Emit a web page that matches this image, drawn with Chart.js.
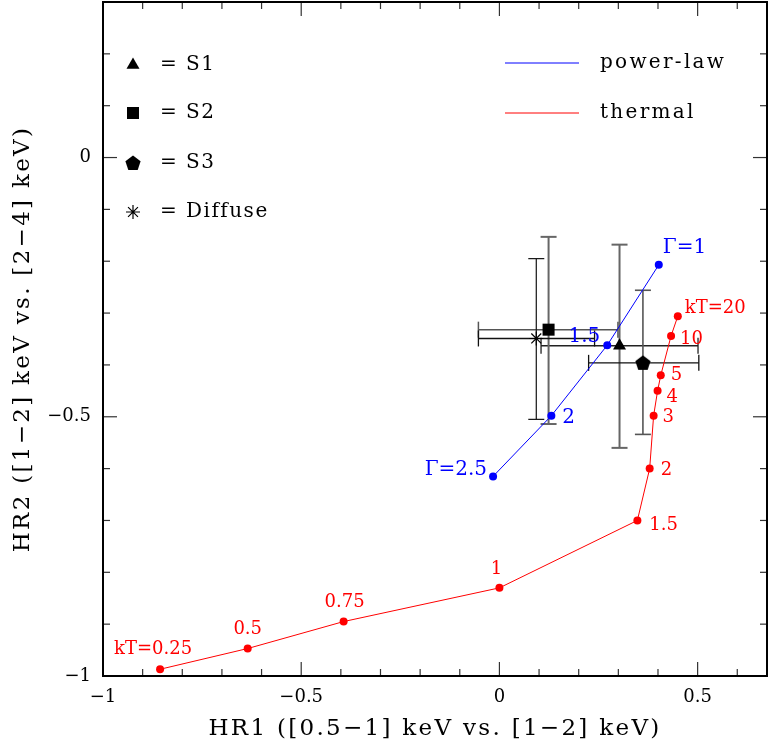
<!DOCTYPE html>
<html>
<head>
<meta charset="utf-8">
<script src="https://cdn.jsdelivr.net/npm/chart.js@4.4.1/dist/chart.umd.min.js"></script>
<style>
  html, body { margin: 0; padding: 0; background: #fff; }
</style>
</head>
<body>
<canvas id="c" width="768" height="747"></canvas>
<script>
// tick labels
const xTickLabels = [-1, -0.5, 0, 0.5];
const yTickLabels = [-1, -0.5, 0];

// power-law model track (photon index)
const powerGamma = ['Γ=1', '1.5', '2', 'Γ=2.5'];
const powerHR1 = [0.402, 0.272, 0.131, -0.016];
const powerHR2 = [-0.207, -0.362, -0.498, -0.615];

// thermal model track (kT in keV)
const thermalKT = ['kT=20', '10', '5', '4', '3', '2', '1.5', '1', '0.75', '0.5', 'kT=0.25'];
const thermalHR1 = [0.450, 0.433, 0.407, 0.399, 0.389, 0.379, 0.348, 0.0, -0.393, -0.635, -0.856];
const thermalHR2 = [-0.306, -0.344, -0.420, -0.450, -0.498, -0.600, -0.700, -0.830, -0.895, -0.947, -0.987];

// sources with error bars
const srcNames = ['S1', 'S2', 'S3', 'Diffuse'];
const srcHR1 = [0.303, 0.124, 0.362, 0.093];
const srcHR1Lo = [0.105, -0.053, 0.225, -0.053];
const srcHR1Hi = [0.501, 0.299, 0.503, 0.240];
const srcHR2 = [-0.363, -0.332, -0.396, -0.349];
const srcHR2Lo = [-0.560, -0.514, -0.534, -0.505];
const srcHR2Hi = [-0.168, -0.153, -0.256, -0.195];

const FONT = "'DejaVu Serif', serif";
const BLUE = '#0000ff';
const RED = '#ff0000';

const toXY = (xs, ys) => xs.map((x, i) => ({ x: x, y: ys[i] }));
const fmt = v => (v === 0 ? '0' : String(v).replace('-', '\u2212'));

function pentagon(size) {
    const c = document.createElement('canvas');
    c.width = size; c.height = size;
    const g = c.getContext('2d');
    const r = size / 2;
    g.fillStyle = '#000';
    g.beginPath();
    for (let k = 0; k < 5; k++) {
        const a = -Math.PI / 2 + k * 2 * Math.PI / 5;
        g.lineTo(r + r * Math.cos(a), r + 0.6 + r * Math.sin(a));
    }
    g.closePath();
    g.fill();
    return c;
}
const pentImg = pentagon(16);

// marker style per source
const srcStyle = [
    { pointStyle: 'triangle', radius: 7.5, borderWidth: 0 },
    { pointStyle: 'rect', radius: 8.5, borderWidth: 0 },
    { pointStyle: pentImg, radius: 8, borderWidth: 0 },
    { pointStyle: 'star', radius: 7, borderWidth: 1.2 },
];
// error bar look: vertical / horizontal
const errV = [['#666', 2], ['#666', 2], ['#555', 1.6], ['#111', 1.2]];
const errH = [['#222', 1.3], ['#555', 1.5], ['#111', 1.3], ['#111', 1.3]];

// label offsets [dx, dy, align]
const powerLabelPos = [[4, -17, 'left'], [-7, -8, 'right'], [11, 2, 'left'], [-6, -7, 'right']];
const thermalLabelPos = [[7, -8, 'left'], [9, 3, 'left'], [10, 0, 'left'], [9, 6, 'left'], [9, 2, 'left'],
    [11, 2, 'left'], [12, 5, 'left'], [-3, -19, 'center'], [1, -19, 'center'], [0, -19, 'center'], [-7, -20, 'center']];

function seg(ctx, x0, y0, x1, y1) {
    ctx.beginPath(); ctx.moveTo(x0, y0); ctx.lineTo(x1, y1); ctx.stroke();
}

// fixed axis boxes so the plot area lands at 103..767 x 2..676
function fixBox(s, size) {
    if (s.isHorizontal()) s.height = size; else s.width = size;
    s.paddingTop = 0; s.paddingBottom = 0; s.paddingLeft = 0; s.paddingRight = 0;
}

// wide letter spacing for the axis titles (tick labels are drawn later, after datasets)
const spacing = {
    id: 'spacing',
    beforeDraw(chart) { chart.ctx.letterSpacing = '2.3px'; },
    beforeDatasetsDraw(chart) { chart.ctx.letterSpacing = '0px'; },
};

const errorBars = {
    id: 'errorBars',
    beforeDatasetsDraw(chart) {
        const { ctx, scales: { x, y } } = chart;
        const cap = 8;
        ctx.save();
        srcHR1.forEach((v, i) => {
            const px = x.getPixelForValue(v), py = y.getPixelForValue(srcHR2[i]);
            const x0 = x.getPixelForValue(srcHR1Lo[i]), x1 = x.getPixelForValue(srcHR1Hi[i]);
            const y0 = y.getPixelForValue(srcHR2Lo[i]), y1 = y.getPixelForValue(srcHR2Hi[i]);
            ctx.strokeStyle = errV[i][0]; ctx.lineWidth = errV[i][1];
            seg(ctx, px, y0, px, y1);
            seg(ctx, px - cap, y0, px + cap, y0);
            seg(ctx, px - cap, y1, px + cap, y1);
            ctx.strokeStyle = errH[i][0]; ctx.lineWidth = errH[i][1];
            seg(ctx, x0, py, x1, py);
            seg(ctx, x0, py - cap, x0, py + cap);
            seg(ctx, x1, py - cap, x1, py + cap);
        });
        ctx.restore();
    }
};

const frameTicks = {
    id: 'frameTicks',
    afterDraw(chart) {
        const { ctx, chartArea: a, scales: { x, y } } = chart;
        ctx.save();
        ctx.strokeStyle = '#333';
        ctx.lineWidth = 1.2;
        for (let k = -10; k <= 6; k++) {
            const px = x.getPixelForValue(k / 10);
            const len = k % 5 === 0 ? 14 : 7;
            seg(ctx, px, a.bottom, px, a.bottom - len);
            seg(ctx, px, a.top, px, a.top + len);
        }
        for (let k = -10; k <= 3; k++) {
            const py = y.getPixelForValue(k / 10);
            const len = k % 5 === 0 ? 14 : 7;
            seg(ctx, a.left, py, a.left + len, py);
            seg(ctx, a.right, py, a.right - len, py);
        }
        ctx.strokeStyle = '#000';
        ctx.lineWidth = 2;
        ctx.strokeRect(a.left, a.top, a.right - a.left, a.bottom - a.top);
        ctx.restore();
    }
};

const annotations = {
    id: 'annotations',
    afterDatasetsDraw(chart) {
        const { ctx, scales: { x, y } } = chart;
        ctx.save();
        ctx.letterSpacing = '0px';
        ctx.textBaseline = 'middle';
        ctx.fillStyle = BLUE;
        ctx.font = '20px ' + FONT;
        powerGamma.forEach((t, i) => {
            const p = powerLabelPos[i];
            ctx.textAlign = p[2];
            ctx.fillText(t, x.getPixelForValue(powerHR1[i]) + p[0], y.getPixelForValue(powerHR2[i]) + p[1]);
        });
        ctx.fillStyle = RED;
        ctx.font = '18px ' + FONT;
        thermalKT.forEach((t, i) => {
            const p = thermalLabelPos[i];
            ctx.textAlign = p[2];
            ctx.fillText(t, x.getPixelForValue(thermalHR1[i]) + p[0], y.getPixelForValue(thermalHR2[i]) + p[1]);
        });

        // key in the upper left: markers and names
        const keyY = [65, 113, 163, 212];
        ctx.fillStyle = '#000';
        ctx.strokeStyle = '#000';
        srcNames.forEach((n, i) => {
            const s = srcStyle[i];
            ctx.lineWidth = s.borderWidth || 1;
            Chart.helpers.drawPoint(ctx, { pointStyle: s.pointStyle, radius: s.radius, rotation: 0, borderWidth: s.borderWidth }, 133, keyY[i]);
            ctx.font = '20px ' + FONT;
            ctx.letterSpacing = '1.5px';
            ctx.textAlign = 'left';
            ctx.fillText('=', 160, keyY[i]);
            ctx.fillText(n, 186, keyY[i]);
        });

        // key in the upper right: model tracks
        const lines = [['power-law', BLUE, 63], ['thermal', RED, 113]];
        lines.forEach(([t, c, ly]) => {
            ctx.strokeStyle = c;
            ctx.lineWidth = 1;
            seg(ctx, 505, ly, 579, ly);
            ctx.fillStyle = '#000';
            ctx.letterSpacing = '2.3px';
            ctx.fillText(t, 600, ly);
        });
        ctx.restore();
    }
};

const srcDatasets = srcNames.map((n, i) => ({
    label: n,
    data: [{ x: srcHR1[i], y: srcHR2[i] }],
    pointStyle: srcStyle[i].pointStyle,
    pointRadius: srcStyle[i].radius,
    pointBorderWidth: srcStyle[i].borderWidth,
    backgroundColor: '#000',
    borderColor: '#000',
}));

new Chart(document.getElementById('c'), {
    type: 'scatter',
    data: {
        datasets: [
            {
                label: 'power-law',
                data: toXY(powerHR1, powerHR2),
                showLine: true,
                borderColor: BLUE,
                backgroundColor: BLUE,
                borderWidth: 1,
                pointRadius: 4,
                pointBorderWidth: 0,
            },
            {
                label: 'thermal',
                data: toXY(thermalHR1, thermalHR2),
                showLine: true,
                borderColor: RED,
                backgroundColor: RED,
                borderWidth: 1,
                pointRadius: 4,
                pointBorderWidth: 0,
            },
            ...srcDatasets,
        ]
    },
    options: {
        responsive: false,
        animation: false,
        devicePixelRatio: 1,
        layout: { autoPadding: false, padding: { top: 2, right: 1, left: 0, bottom: 0 } },
        plugins: { legend: { display: false }, tooltip: { enabled: false } },
        scales: {
            x: {
                type: 'linear',
                min: -1,
                max: 0.675,
                grid: { display: false, drawTicks: false },
                border: { display: false },
                afterFit: s => fixBox(s, 71),
                afterBuildTicks: s => { s.ticks = xTickLabels.map(v => ({ value: v })); },
                ticks: { z: 1, padding: 11, color: '#000', font: { family: FONT, size: 18 }, callback: v => fmt(v) },
                title: {
                    display: true,
                    text: 'HR1 ([0.5\u22121] keV vs. [1\u22122] keV)',
                    color: '#000',
                    font: { family: FONT, size: 23 },
                    padding: { bottom: 4 },
                },
            },
            y: {
                type: 'linear',
                min: -1,
                max: 0.3,
                grid: { display: false, drawTicks: false },
                border: { display: false },
                afterFit: s => fixBox(s, 103),
                afterBuildTicks: s => { s.ticks = yTickLabels.map(v => ({ value: v })); },
                ticks: { z: 1, padding: 12, color: '#000', font: { family: FONT, size: 18 }, callback: v => fmt(v) },
                title: {
                    display: true,
                    text: 'HR2 ([1\u22122] keV vs. [2\u22124] keV)',
                    color: '#000',
                    font: { family: FONT, size: 23 },
                    padding: { top: 9 },
                },
            },
        },
    },
    plugins: [spacing, errorBars, frameTicks, annotations],
});
</script>
</body>
</html>
